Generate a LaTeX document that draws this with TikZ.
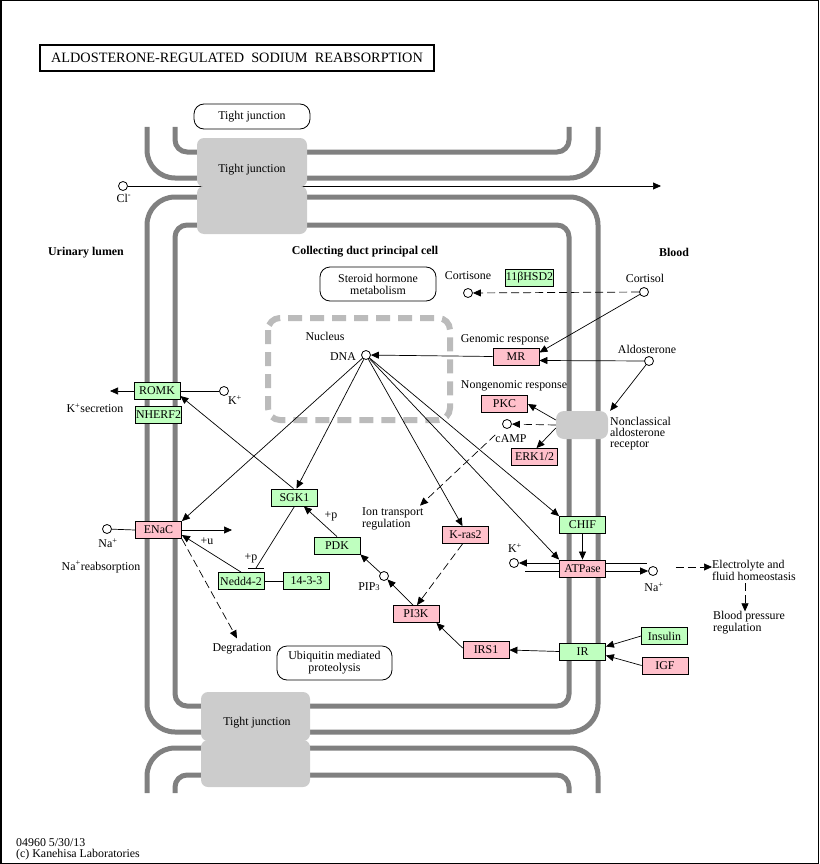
\documentclass[tikz,border=0pt]{standalone}
\usepackage{fontspec}
\setmainfont{Liberation Serif}
\usetikzlibrary{arrows.meta}
\definecolor{kgreen}{HTML}{BFFFBF}
\definecolor{kpink}{HTML}{FFC0CB}
\definecolor{kwall}{HTML}{808080}
\definecolor{kjunc}{HTML}{CCCCCC}
\definecolor{knuc}{HTML}{BBBBBB}
\tikzset{
 every node/.style={font=\fontsize{11.9}{12}\selectfont},
 gene/.style={draw, line width=0.8pt, minimum width=46pt, minimum height=17pt, inner sep=0pt},
 gbox/.style={gene, fill=kgreen},
 pbox/.style={gene, fill=kpink},
 lbl/.style={inner sep=0pt},
 blbl/.style={inner sep=0pt, font=\fontsize{11.9}{12}\selectfont\bfseries},
 cpd/.style={circle, draw, fill=white, line width=0.8pt, minimum size=9pt, inner sep=0pt},
 conn/.style={line width=0.7pt},
 arr/.style={conn, -{Triangle[length=8pt,width=7pt]}},
 dsh/.style={dash pattern=on 8pt off 4pt},
 wall/.style={draw=kwall, line width=5pt},
 junc/.style={fill=kjunc, rounded corners=7pt},
 mapbox/.style={draw, line width=0.8pt, rounded corners=10pt, inner sep=0pt, align=center},
}
\begin{document}
\begin{tikzpicture}[x=1pt,y=-1pt]
\useasboundingbox (0,0) rectangle (819,864);
\draw[line width=1.5pt] (0.75,0.75) rectangle (818.25,863.25);
\node[draw, line width=2pt, minimum width=394pt, minimum height=26pt, inner sep=0pt, font=\fontsize{14.3}{15}\selectfont] (title) at (237,58) {ALDOSTERONE-REGULATED\ \ SODIUM\ \ REABSORPTION};

% cell walls
\draw[wall, rounded corners=28pt] (147,127) -- (147,178) -- (598,178) -- (598,127);
\draw[wall, rounded corners=12pt] (175,127) -- (175,152) -- (569,152) -- (569,127);
\draw[wall, rounded corners=28pt] (147,197) rectangle (598,732);
\draw[wall, rounded corners=12pt] (175,225) rectangle (569,706);
\draw[wall, rounded corners=28pt] (147,793) -- (147,748) -- (598,748) -- (598,793);
\draw[wall, rounded corners=12pt] (175,793) -- (175,775) -- (569,775) -- (569,793);

% Cl- transport
\node[cpd] (cl) at (123,186) {};
\coordinate (clend) at (661,186);
\draw[arr] (cl) -- (clend);
\node[lbl] (cllbl) at (124,198) {Cl\textsuperscript{-}};

% tight junctions
\fill[junc] (197,138) rectangle (307,187);
\fill[junc] (197,186) rectangle (307,234);
\fill[junc] (201,692) rectangle (310,741);
\fill[junc] (201,740) rectangle (310,787);
\node[lbl] (tj1) at (252,170) {Tight junction};
\node[lbl] (tj2) at (257,723) {Tight junction};
\node[mapbox, minimum width=116pt, minimum height=25pt] (tj0) at (252,116.5) {Tight junction};

% region labels
\node[blbl] (lumen) at (86,253) {Urinary lumen};
\node[blbl] (cell) at (365,252) {Collecting duct principal cell};
\node[blbl] (blood) at (674,252) {Blood};

% map boxes
\node[mapbox, minimum width=116pt, minimum height=34pt] (steroid) at (378,284) {Steroid hormone\\metabolism};
\node[mapbox, minimum width=115pt, minimum height=34pt] (ubiq) at (334.5,663) {Ubiquitin mediated\\proteolysis};

% nucleus
\draw[knuc, line width=6pt, dash pattern=on 14pt off 8pt, rounded corners=12pt] (268,318) rectangle (450,420);
\node[lbl] (nuclbl) at (325,336) {Nucleus};
\node[lbl] (dnalbl) at (343,357) {DNA};

% compounds
\node[cpd] (cortisone) at (468,293) {};
\node[cpd] (cortisol) at (644,292) {};
\node[cpd] (dna) at (366,355) {};
\node[cpd] (aldo) at (649,361) {};
\node[cpd] (camp) at (507,424) {};
\node[cpd] (kromk) at (224,391) {};
\node[cpd] (na) at (107,529) {};
\node[cpd] (pip3) at (384,576) {};
\node[cpd] (kat) at (514,563) {};
\node[cpd] (naat) at (653,571) {};

% compound labels
\node[lbl] (cortisonelbl) at (468,276) {Cortisone};
\node[lbl] (cortisollbl) at (645,278) {Cortisol};
\node[lbl] (aldolbl) at (647,349) {Aldosterone};
\node[lbl] (camplbl) at (511,439) {cAMP};
\node[lbl] (kromklbl) at (235,400) {K\textsuperscript{+}};
\node[lbl] (kseclbl) at (95,408) {K\textsuperscript{+}secretion};
\node[lbl] (nalbl) at (108,543) {Na\textsuperscript{+}};
\node[lbl] (nareabs) at (101,567) {Na\textsuperscript{+}reabsorption};
\node[lbl] (pip3lbl) at (369,587) {PIP{\fontsize{8.5}{8}\selectfont 3}};
\node[lbl] (katlbl) at (515,548) {K\textsuperscript{+}};
\node[lbl] (naatlbl) at (654,587) {Na\textsuperscript{+}};

% genes
\node[gbox] (hsd) at (529.5,277.5) {11βHSD2};
\node[pbox] (MR) at (516,356.5) {MR};
\node[pbox] (PKC) at (504.5,404) {PKC};
\node[pbox] (ERK) at (534.5,457) {ERK1/2};
\node[gbox] (ROMK) at (157,391) {ROMK};
\node[gbox] (NHERF) at (158.5,415) {NHERF2};
\node[pbox] (ENaC) at (158.5,530) {ENaC};
\node[gbox] (SGK) at (294.5,497.5) {SGK1};
\node[gbox] (PDK) at (337,545.5) {PDK};
\node[gbox] (Nedd) at (241,581) {Nedd4-2};
\node[gbox] (ywha) at (306.5,581) {14-3-3};
\node[pbox] (Kras) at (465.5,535) {K-ras2};
\node[pbox] (PI3K) at (416,614) {PI3K};
\node[pbox] (IRS) at (486,650) {IRS1};
\node[gbox] (IR) at (582.5,651.5) {IR};
\node[gbox] (Ins) at (664.5,636) {Insulin};
\node[pbox] (IGF) at (665,665.5) {IGF};
\node[gbox] (CHIF) at (582.5,525) {CHIF};
\node[pbox] (ATP) at (582.5,568.5) {ATPase};
\node[fill=kjunc, rounded corners=8pt, minimum width=52pt, minimum height=28pt, inner sep=0pt] (rec) at (582,425) {};

% text labels
\node[lbl] (genom) at (505,340) {Genomic response};
\node[lbl] (nongenom) at (514,386) {Nongenomic response};
\node[lbl, anchor=west, align=left, font=\fontsize{11.9}{11}\selectfont] (reclbl) at (610,434) {Nonclassical\\aldosterone\\receptor};
\node[lbl, anchor=west, align=left] (ion) at (362,519) {Ion transport\\regulation};
\node[lbl] (degr) at (242,649) {Degradation};
\node[lbl, anchor=west, align=left] (elec) at (712,570) {Electrolyte and\\fluid homeostasis};
\node[lbl, anchor=west, align=left] (bp) at (713,623) {Blood pressure\\regulation};
\node[lbl] (pu) at (207,541) {+u};
\node[lbl] (pp1) at (251,558) {+p};
\node[lbl] (pp2) at (331,516) {+p};

% connectors
\draw[arr, dsh] (cortisol) -- (cortisone);
\draw[arr] (cortisol) -- ([yshift=4pt]MR.east);
\draw[arr] (aldo) -- ([yshift=-4pt]MR.east);
\draw[arr] (aldo) -- ([xshift=2pt]rec.north east);
\draw[arr] (MR.west) -- (dna);
\draw[arr] ([yshift=5pt]rec.west) -- (PKC.east);
\draw[arr, dsh] (rec.west) -- (camp);
\draw[arr] ([yshift=-3pt]rec.west) -- ([xshift=2pt]ERK.north);
\draw[arr, dsh] (camplbl.north west) -- ([xshift=58pt,yshift=2pt]ion.north west);
\draw[arr] (dna) -- ([xshift=2pt]SGK.north);
\draw[arr] (dna) -- (ENaC.north east);
\draw[arr] (dna) -- ([xshift=-3pt]Kras.north);
\draw[arr] (dna) -- (CHIF.north west);
\draw[arr] (dna) -- (ATP.north west);
\draw[arr] ([xshift=-1pt]SGK.north) -- ([yshift=-5pt]ROMK.east);
\coordinate (kout) at (110,391);
\draw[arr] (ROMK.west) -- (kout);
\draw[conn] (kromk) -- (ROMK.east);
\draw[conn] (na) -- (ENaC.west);
\coordinate (naout) at (232,530);
\draw[arr] (ENaC.east) -- (naout);
\draw[arr] (Nedd.north) -- ([yshift=-5pt]ENaC.east);
\coordinate (barc) at (256,568);
\draw[conn] (SGK.south) -- (barc);
\draw[conn] ([xshift=-8pt]barc) -- ([xshift=8pt]barc);
\draw[conn] (Nedd.east) -- (ywha.west);
\draw[arr, dsh] (ENaC.south east) -- ([xshift=-5pt,yshift=5pt]degr.north);
\draw[arr] (PDK.north) -- ([xshift=-14pt]SGK.south east);
\draw[arr] (pip3) -- (PDK.south east);
\draw[arr] ([xshift=-3pt]PI3K.north) -- (pip3);
\draw[arr, dsh] ([xshift=-3pt]Kras.south) -- ([xshift=1pt]PI3K.north);
\draw[arr] (CHIF.south) -- (ATP.north);
\draw[arr] ([yshift=5.5pt]ATP.west) -- (kat);
\coordinate (atl) at (525,571);
\coordinate (atr) at (647,563);
\draw[conn] ([yshift=-2.5pt]ATP.west) -- (atl);
\draw[conn] ([yshift=5.5pt]ATP.east) -- (atr);
\draw[arr] ([yshift=-2.5pt]ATP.east) -- (naat);
\draw[arr, dsh] ([xshift=18pt,yshift=4pt]naat.east) -- ([yshift=3pt]elec.west);
\draw[arr, dsh] ([xshift=33pt,yshift=-3pt]elec.south west) -- ([xshift=32pt]bp.north west);
\draw[arr] (IR.west) -- (IRS.east);
\draw[arr] ([yshift=2pt]IRS.west) -- ([xshift=-3pt]PI3K.south east);
\draw[arr] (Ins.west) -- ([yshift=5pt]IR.east);
\draw[arr] (IGF.west) -- ([yshift=-4pt]IR.east);

% footer
\node[lbl, anchor=west] (f1) at (16,843) {04960 5/30/13};
\node[lbl, anchor=west] (f2) at (16,855) {(c) Kanehisa Laboratories};
\end{tikzpicture}
\end{document}
